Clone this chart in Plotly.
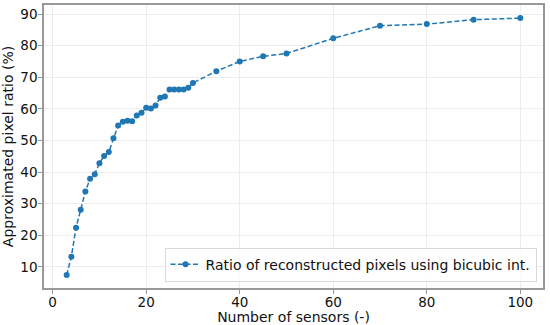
import plotly.graph_objects as go

sensors = [3, 4, 5, 6, 7, 8, 9, 10, 11, 12, 13, 14, 15, 16, 17, 18, 19, 20,
           21, 22, 23, 24, 25, 26, 27, 28, 29, 30, 35, 40, 45, 50, 60, 70, 80, 90, 100]
ratio = [7.4, 13.2, 22.4, 28.1, 33.8, 37.9, 39.3, 42.8, 45.05, 46.3, 50.7, 54.7,
         55.9, 56.2, 56.1, 57.9, 58.75, 60.3, 60.1, 61.05, 63.5, 63.9, 66.1, 66.1,
         66.1, 66.1, 66.7, 68.2, 71.9, 75.0, 76.6, 77.5, 82.3, 86.3, 86.8, 88.2, 88.7]

x_ticks = [0, 20, 40, 60, 80, 100]
y_ticks = [10, 20, 30, 40, 50, 60, 70, 80, 90]
series_name = "Ratio of reconstructed pixels using bicubic int."

fig = go.Figure()
fig.add_trace(go.Scatter(
    x=sensors, y=ratio, mode="lines+markers", name=series_name,
    line=dict(color="#1f77b4", width=1.5, dash="5px,2.5px"),
    marker=dict(color="#1f77b4", size=6, symbol="circle"),
))

axis_common = dict(
    showline=True, linecolor="#999999", linewidth=1.5, mirror=True,
    ticks="outside", ticklen=4, tickcolor="#999999", tickwidth=1,
    showgrid=True, gridcolor="#ececec", gridwidth=1, zeroline=False,
    automargin=False,
    tickfont=dict(family="DejaVu Sans", size=13.5, color="#111111"),
)

fig.update_layout(
    width=550, height=325,
    margin=dict(l=44, r=7, t=5, b=37, autoexpand=False),
    paper_bgcolor="white", plot_bgcolor="white",
    font=dict(family="DejaVu Sans", size=14, color="#111111"),
    xaxis=dict(range=[-1.85, 104.85], tickvals=x_ticks, ticklabelstandoff=-3,
               title=dict(text="Number of sensors (-)", standoff=0,
                          font=dict(family="DejaVu Sans", size=14)),
               **axis_common),
    yaxis=dict(range=[3.3, 92.85], tickvals=y_ticks, ticklabelstandoff=-2,
               title=dict(text="Approximated pixel ratio (%)", standoff=3,
                          font=dict(family="DejaVu Sans", size=14)),
               **axis_common),
    showlegend=True,
    legend=dict(x=0.987, y=0.022, xanchor="right", yanchor="bottom",
                bgcolor="rgba(255,255,255,0.8)", bordercolor="#d9d9d9", borderwidth=1,
                font=dict(family="DejaVu Sans", size=14, color="#111111")),
)

fig.write_html("out.html", config={"displayModeBar": False},
               post_script="document.body.style.margin='0';document.body.style.overflow='hidden';")
